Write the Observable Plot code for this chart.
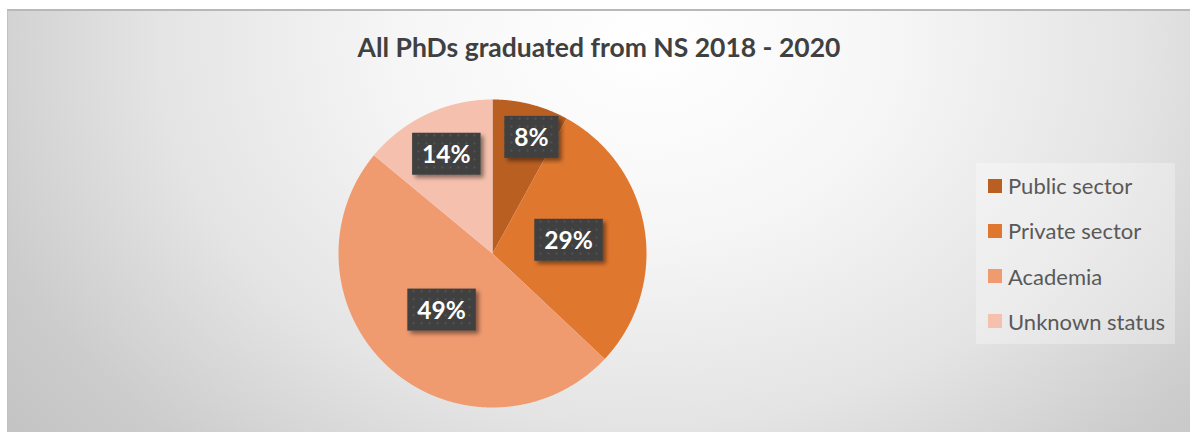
<!DOCTYPE html>
<html>
<head>
<meta charset="utf-8">
<script src="https://cdn.jsdelivr.net/npm/d3@7"></script>
<script src="https://cdn.jsdelivr.net/npm/@observablehq/plot@0.6"></script>
<style>
  html, body { margin: 0; padding: 0; background: #ffffff; width: 1190px; height: 432px; overflow: hidden; }
  #chart {
    position: absolute; left: 7px; top: 9px; width: 1183px; height: 423px;
    box-sizing: border-box; border-top: 2px solid #b8b8b8; border-left: 1px solid #c2c2c2;
    background: radial-gradient(ellipse 820px 640px at 640px 30px, #ffffff 0%, #f6f6f6 30%, #e4e4e4 60%, #cccccc 85%, #c3c3c3 100%);
    overflow: hidden; font-family: Lato, "Open Sans", sans-serif;
  }
  #title {
    position: absolute; left: 0; right: 0; top: 22px; text-align: center;
    font: bold 26.5px Lato, sans-serif; line-height: 28px; color: #404040;
  }
  #plot { position: absolute; left: 0; top: 68px; }
  #legend {
    position: absolute; left: 968px; top: 152px; width: 199px; height: 181px;
    background: rgba(255,255,255,0.3);
  }
  .item { position: absolute; left: 0; height: 45px; display: flex; align-items: center; white-space: nowrap;
          font: 22px Lato, sans-serif; color: #595959; }
  .sw { width: 14px; height: 14px; margin-left: 12px; margin-right: 6px; flex: none; }
</style>
</head>
<body>
<div id="chart">
  <div id="title"></div>
  <div id="plot"></div>
  <div id="legend"></div>
</div>
<script>
const titleText = "All PhDs graduated from NS 2018 - 2020";
const categories = ["Public sector", "Private sector", "Academia", "Unknown status"];
const shares = [8, 29, 49, 14];
const labels = ["8%", "29%", "49%", "14%"];
const colors = ["#BA5F22", "#E0772E", "#F09A70", "#F5C1AE"];

document.getElementById("title").textContent = titleText;

// slices from d3.pie (0 = 12 o'clock, clockwise)
const arcs = d3.pie().sort(null)(shares);
const slicePts = [];
const labelPts = [];
arcs.forEach((a, i) => {
  const k = categories[i];
  slicePts.push({x: 0, y: 0, k});
  const n = Math.max(2, Math.ceil((a.endAngle - a.startAngle) / 0.005));
  for (let j = 0; j <= n; j++) {
    const t = a.startAngle + (a.endAngle - a.startAngle) * j / n;
    slicePts.push({x: Math.sin(t), y: Math.cos(t), k});
  }
  slicePts.push({x: 0, y: 0, k});
  // best-fit style: narrow slices push their label outward
  const span = a.endAngle - a.startAngle;
  const frac = shares[i] < 15 ? 0.9 - 0.014 * shares[i] : 0.5;
  // keep a narrow label off the slice's start edge
  const mid = (a.startAngle + a.endAngle) / 2 + (shares[i] < 10 ? span * 0.15 : 0);
  labelPts.push({x: frac * Math.sin(mid), y: frac * Math.cos(mid), t: labels[i]});
});

const plot = Plot.plot({
  width: 1182,
  height: 353,
  marginLeft: 330,
  marginRight: 544,
  marginTop: 20,
  marginBottom: 25,
  x: {domain: [-1, 1], axis: null},
  y: {domain: [-1, 1], axis: null},
  color: {domain: categories, range: colors},
  style: {background: "transparent", overflow: "visible"},
  marks: [
    Plot.line(slicePts, {x: "x", y: "y", z: "k", fill: "k", stroke: "none"}),
    Plot.text(labelPts, {x: "x", y: "y", text: "t", fill: "white", fontSize: 24.5, fontWeight: "bold", fontFamily: "Lato, sans-serif"})
  ]
});
document.getElementById("plot").appendChild(plot);

// label boxes with dotted pattern and shadow
const ns = "http://www.w3.org/2000/svg";
const defs = document.createElementNS(ns, "defs");
defs.innerHTML = `
  <pattern id="dots" width="8" height="8" patternUnits="userSpaceOnUse">
    <rect width="8" height="8" fill="#404040"/>
    <circle cx="4" cy="4" r="1.1" fill="#565656"/>
  </pattern>
  <filter id="shadow" x="-20%" y="-20%" width="150%" height="160%">
    <feDropShadow dx="3" dy="3" stdDeviation="2.2" flood-color="#000" flood-opacity="0.45"/>
  </filter>`;
plot.insertBefore(defs, plot.firstChild);
function boxes() {
  plot.querySelectorAll("rect.lblbox").forEach(r => r.remove());
  plot.querySelectorAll('g[aria-label="text"] text').forEach(t => {
    const b = t.getBBox();
    const cy = b.y + b.height / 2;
    const r = document.createElementNS(ns, "rect");
    r.setAttribute("class", "lblbox");
    r.setAttribute("x", b.x - 10);
    r.setAttribute("width", b.width + 20);
    r.setAttribute("y", cy - 21);
    r.setAttribute("height", 42);
    r.setAttribute("fill", "url(#dots)");
    r.setAttribute("filter", "url(#shadow)");
    if (t.getAttribute("transform")) r.setAttribute("transform", t.getAttribute("transform"));
    t.parentNode.insertBefore(r, t);
  });
}
boxes();

// legend
const legend = document.getElementById("legend");
categories.forEach((c, i) => {
  const it = document.createElement("div");
  it.className = "item";
  it.style.top = (i * 45.3) + "px";
  const sw = document.createElement("span");
  sw.className = "sw";
  sw.style.background = colors[i];
  const tx = document.createElement("span");
  tx.textContent = c;
  it.appendChild(sw); it.appendChild(tx);
  legend.appendChild(it);
});
if (document.fonts && document.fonts.ready) document.fonts.ready.then(boxes);
</script>
</body>
</html>
